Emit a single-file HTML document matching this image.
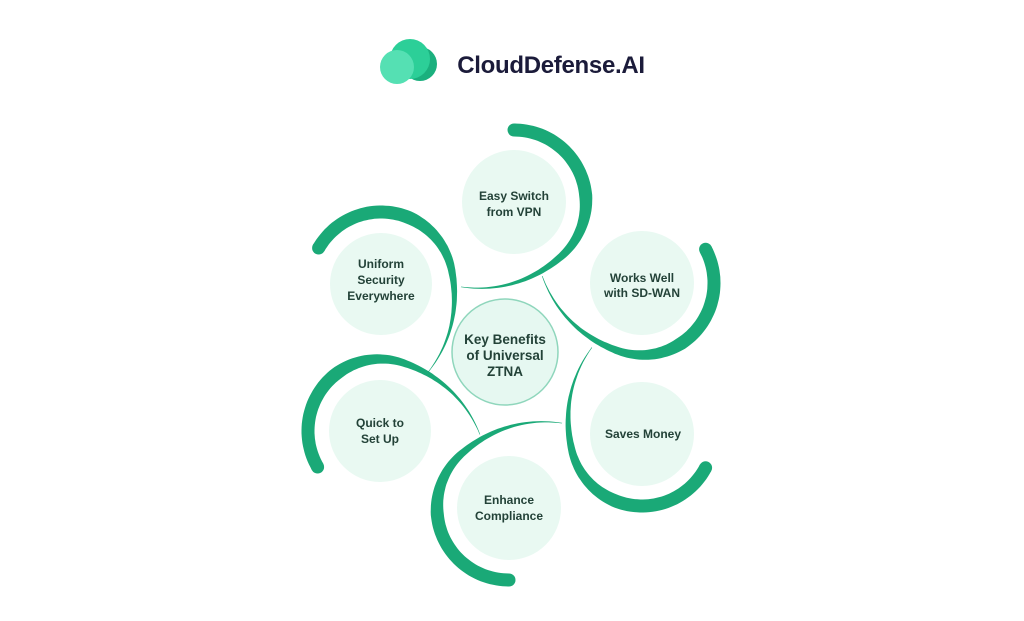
<!DOCTYPE html>
<html><head><meta charset="utf-8"><style>
html,body{margin:0;padding:0;background:#fff;width:1024px;height:621px;overflow:hidden}
svg{display:block}
text{font-family:"Liberation Sans",sans-serif;font-weight:bold;fill:#234238;text-anchor:middle}
</style></head><body>
<svg id="s" width="1024" height="621" viewBox="0 0 1024 621" xmlns="http://www.w3.org/2000/svg">
<circle cx="420" cy="64" r="17" fill="#1bb07e"/>
<circle cx="410" cy="59" r="20" fill="#2ccf98"/>
<circle cx="397" cy="67" r="17" fill="#55e0b3"/>
<text x="551" y="73" style="font-size:24px;fill:#1b1b3a;letter-spacing:-0.3px">CloudDefense.AI</text>
<g id="arcs"></g>
<g fill="#e9f9f2">
<circle cx="514" cy="202" r="52"/>
<circle cx="381" cy="284" r="51"/>
<circle cx="642" cy="283" r="52"/>
<circle cx="380" cy="431" r="51"/>
<circle cx="642" cy="434" r="52"/>
<circle cx="509" cy="508" r="52"/>
</g>
<circle cx="505" cy="352" r="53" fill="#e6f8f1" stroke="#8fd6bc" stroke-width="1.5"/>
<g style="font-size:12px">
<text x="514" y="200">Easy Switch</text><text x="514" y="216">from VPN</text>
<text x="381" y="268">Uniform</text><text x="381" y="284">Security</text><text x="381" y="300">Everywhere</text>
<text x="642" y="282">Works Well</text><text x="642" y="297">with SD-WAN</text>
<text x="380" y="427">Quick to</text><text x="380" y="443">Set Up</text>
<text x="643" y="438">Saves Money</text>
<text x="509" y="504">Enhance</text><text x="509" y="520">Compliance</text>
</g>
<g style="font-size:13.5px">
<text x="505" y="344">Key Benefits</text><text x="505" y="360">of Universal</text><text x="505" y="376">ZTNA</text>
</g>
</svg>
<script>
var nodes=[[514,202,-90],[642,283,-28],[642,434,28],[509,508,90],[380,431,150],[381,284,-150]];
var g=document.getElementById('arcs'),out='';
nodes.forEach(function(n){
 var cx=n[0],cy=n[1],a0=n[2],sweep=212,N=90,o=[],i=[];
 for(var k=0;k<=N;k++){
  var t=k/N,a=(a0+sweep*t)*Math.PI/180;
  var r=72+(t>0.65?Math.pow((t-0.65)/0.35,2)*28:0);
  var w=t<0.4?13:12.4*Math.pow(1-(t-0.4)/0.6,1.1)+0.6;
  o.push([cx+(r+w/2)*Math.cos(a),cy+(r+w/2)*Math.sin(a)]);
  i.push([cx+(r-w/2)*Math.cos(a),cy+(r-w/2)*Math.sin(a)]);
 }
 var d='M'+o.map(function(p){return p[0].toFixed(1)+','+p[1].toFixed(1)}).join('L');
 d+='L'+i.reverse().map(function(p){return p[0].toFixed(1)+','+p[1].toFixed(1)}).join('L')+'Z';
 var a=a0*Math.PI/180;
 out+='<path d="'+d+'" fill="#1aa977"/><circle cx="'+(cx+72*Math.cos(a)).toFixed(1)+'" cy="'+(cy+72*Math.sin(a)).toFixed(1)+'" r="6.5" fill="#1aa977"/>';
});
g.innerHTML=out;
</script>
</body></html>
